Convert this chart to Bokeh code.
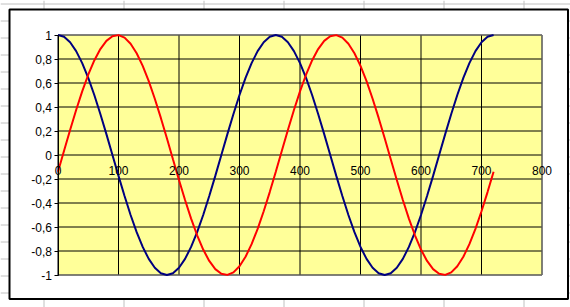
from bokeh.plotting import figure
from bokeh.models import Range1d, FixedTicker, CustomJSTickFormatter
from bokeh.embed import file_html
from bokeh.resources import INLINE

# ---- data ----
x_deg = list(range(0, 721, 10))
blue_vals = [1, 0.985, 0.940, 0.866, 0.766, 0.643, 0.5, 0.342, 0.174, 0,
             -0.174, -0.342, -0.5, -0.643, -0.766, -0.866, -0.940, -0.985, -1,
             -0.985, -0.940, -0.866, -0.766, -0.643, -0.5, -0.342, -0.174, 0,
             0.174, 0.342, 0.5, 0.643, 0.766, 0.866, 0.940, 0.985,
             1, 0.985, 0.940, 0.866, 0.766, 0.643, 0.5, 0.342, 0.174, 0,
             -0.174, -0.342, -0.5, -0.643, -0.766, -0.866, -0.940, -0.985, -1,
             -0.985, -0.940, -0.866, -0.766, -0.643, -0.5, -0.342, -0.174, 0,
             0.174, 0.342, 0.5, 0.643, 0.766, 0.866, 0.940, 0.985, 1]
red_vals = [-0.139, 0.035, 0.208, 0.375, 0.530, 0.669, 0.788, 0.883, 0.951, 0.990,
            0.999, 0.978, 0.927, 0.848, 0.743, 0.616, 0.469, 0.309, 0.139, -0.035,
            -0.208, -0.375, -0.530, -0.669, -0.788, -0.883, -0.951, -0.990, -0.999,
            -0.978, -0.927, -0.848, -0.743, -0.616, -0.469, -0.309,
            -0.139, 0.035, 0.208, 0.375, 0.530, 0.669, 0.788, 0.883, 0.951, 0.990,
            0.999, 0.978, 0.927, 0.848, 0.743, 0.616, 0.469, 0.309, 0.139, -0.035,
            -0.208, -0.375, -0.530, -0.669, -0.788, -0.883, -0.951, -0.990, -0.999,
            -0.978, -0.927, -0.848, -0.743, -0.616, -0.469, -0.309, -0.139]

x_ticks = [0, 100, 200, 300, 400, 500, 600, 700, 800]
x_tick_labels = ["0", "100", "200", "300", "400", "500", "600", "700", "800"]
y_ticks = [-1, -0.8, -0.6, -0.4, -0.2, 0, 0.2, 0.4, 0.6, 0.8, 1]
y_tick_labels = ["-1", "-0,8", "-0,6", "-0,4", "-0,2", "0", "0,2", "0,4", "0,6", "0,8", "1"]
x_min, x_max = 0, 800
y_min, y_max = -1, 1

# ---- layout (pixel geometry of the page) ----
W, H = 570, 307
X0PX, XSCALE = 57.5, 0.605      # px of x=0, px per unit
Y0PX, YSCALE = 154.5, 120.0     # px of y=0, px per unit


def px_x(px):
    return (px - X0PX) / XSCALE


def px_y(py):
    return (Y0PX - py) / YSCALE


p = figure(width=W, height=H, output_backend="svg", toolbar_location=None,
           x_range=Range1d(px_x(0), px_x(W)), y_range=Range1d(px_y(H), px_y(0)),
           min_border=0, min_border_left=0, min_border_right=0,
           min_border_top=0, min_border_bottom=0)
p.outline_line_color = None
p.background_fill_color = "white"
p.border_fill_color = "white"
p.xgrid.visible = False
p.ygrid.visible = False

# spreadsheet cell grid behind the chart
col_px = [43.5 + 80 * i for i in range(7)]
row_px = [3.5 + 17 * i for i in range(18)]
p.segment(x0=[px_x(c) for c in col_px], x1=[px_x(c) for c in col_px],
          y0=px_y(H), y1=px_y(0), line_color="#c0c0c0", line_width=1)
p.segment(x0=px_x(0), x1=px_x(W), y0=[px_y(r) for r in row_px],
          y1=[px_y(r) for r in row_px], line_color="#c0c0c0", line_width=1)

# chart area
p.quad(left=px_x(9), right=px_x(567.5), top=px_y(9), bottom=px_y(298.5),
       fill_color="white", line_color="black", line_width=2)

# plot area
p.quad(left=x_min, right=x_max, top=y_max, bottom=y_min,
       fill_color="#ffff99", line_color=None)
p.segment(x0=x_min, x1=x_max, y0=y_ticks, y1=y_ticks, line_color="black", line_width=1)
p.segment(x0=x_ticks, x1=x_ticks, y0=y_min, y1=y_max, line_color="black", line_width=1)
p.line(x=[x_min, x_max, x_max, x_min], y=[y_max, y_max, y_min, y_min],
       line_color="#808080", line_width=1)

# series
p.line(x=x_deg, y=blue_vals, line_color="#000080", line_width=2)
p.line(x=x_deg, y=red_vals, line_color="#ff0000", line_width=2)

fmt_code = """
let best = 0; let d = Infinity;
for (let i = 0; i < tvals.length; i++) {
  const e = Math.abs(tvals[i] - tick);
  if (e < d) { d = e; best = i; }
}
return tlabels[best];
"""

xa = p.xaxis[0]
xa.fixed_location = 0
xa.ticker = FixedTicker(ticks=x_ticks)
xa.formatter = CustomJSTickFormatter(args=dict(tvals=x_ticks, tlabels=x_tick_labels), code=fmt_code)
xa.axis_line_color = None
xa.major_tick_out = 0
xa.major_tick_in = 0
xa.minor_tick_out = 0
xa.minor_tick_in = 0
xa.major_label_standoff = 11
xa.major_label_text_font = "Liberation Sans"
xa.major_label_text_font_size = "12px"
xa.major_label_text_color = "black"

ya = p.yaxis[0]
ya.fixed_location = 0
ya.bounds = (y_min, y_max)
ya.ticker = FixedTicker(ticks=y_ticks)
ya.formatter = CustomJSTickFormatter(args=dict(tvals=y_ticks, tlabels=y_tick_labels), code=fmt_code)
ya.axis_line_color = "black"
ya.major_tick_out = 4
ya.major_tick_in = 0
ya.major_tick_line_color = "black"
ya.minor_tick_out = 0
ya.minor_tick_in = 0
ya.major_label_standoff = 2
ya.major_label_text_font = "Liberation Sans"
ya.major_label_text_font_size = "12px"
ya.major_label_text_color = "black"

open("out.html", "w").write(file_html(p, INLINE))
